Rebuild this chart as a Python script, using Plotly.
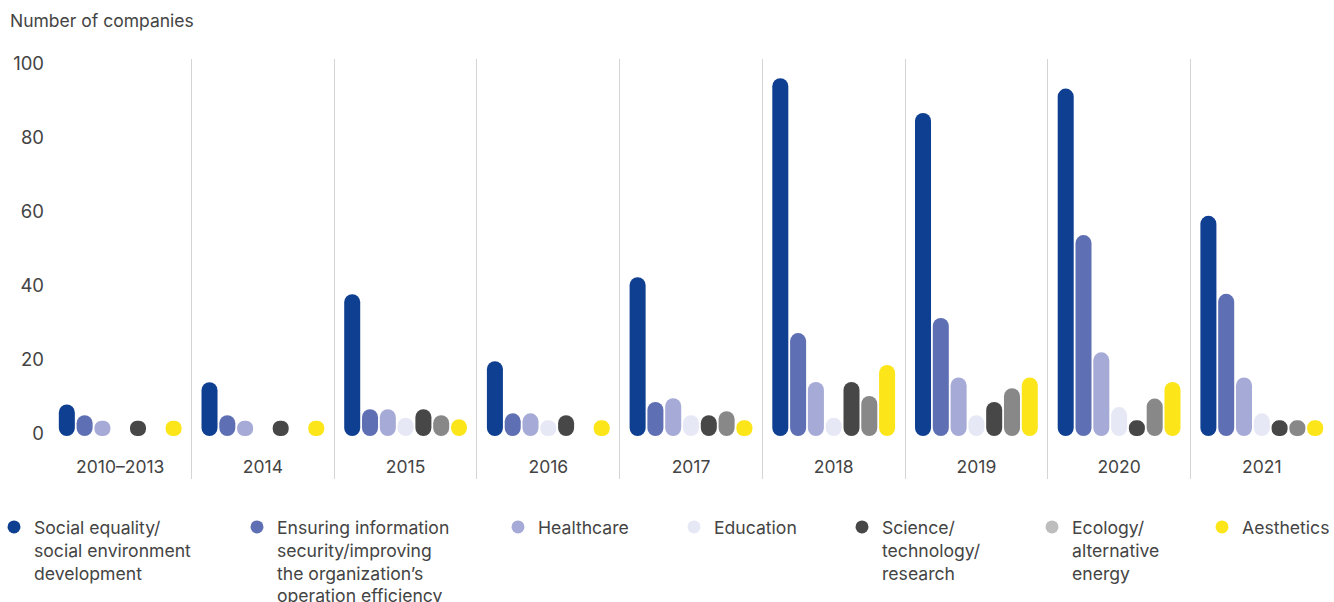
import plotly.graph_objects as go

# ---------------- data ----------------
categories = ["2010–2013", "2014", "2015", "2016", "2017", "2018", "2019", "2020", "2021"]

social_equality = [7.8, 13.8, 37.6, 19.5, 42.2, 96.0, 86.6, 93.2, 58.8]
info_security = [4.9, 4.9, 6.5, 5.4, 8.5, 27.1, 31.2, 53.6, 37.7]
healthcare = [3.4, 3.4, 6.5, 5.4, 9.5, 13.9, 15.1, 21.9, 15.1]
education = [None, None, 4.2, 3.5, 4.9, 4.2, 4.9, 7.1, 5.4]
science = [3.4, 3.4, 6.5, 4.9, 4.9, 13.9, 8.5, 3.5, 3.5]
ecology = [None, None, 4.9, None, 6.0, 10.1, 12.2, 9.4, 3.5]
aesthetics = [3.4, 3.4, 3.8, 3.5, 3.5, 18.5, 15.1, 13.9, 3.5]

series_labels = [
    "Social equality/<br>social environment<br>development",
    "Ensuring information<br>security/improving<br>the organization’s<br>operation efficiency",
    "Healthcare",
    "Education",
    "Science/<br>technology/<br>research",
    "Ecology/<br>alternative<br>energy",
    "Aesthetics",
]
series_values = [social_equality, info_security, healthcare, education, science, ecology, aesthetics]

y_ticks = [0, 20, 40, 60, 80, 100]

# ---------------- style ----------------
bar_colors = ["#0f3f91", "#5f6fb3", "#a6aad6", "#e6e8f5", "#474747", "#888888", "#fce61a"]
legend_colors = ["#0f3f91", "#5f6fb3", "#a6aad6", "#e6e8f5", "#474747", "#bdbdbd", "#fce61a"]
legend_dot_x = [14, 257, 518, 694, 862, 1052, 1222]  # px, dot centres
legend_top_y = 526
W, H = 1334, 602
FONT = "Inter"
TEXT = "#444444"

PILL_BOTTOM = -0.75   # pill bottom (data units)
RADIUS = 8

fig = go.Figure()

for i, (label, vals, col, lcol) in enumerate(zip(series_labels, series_values, bar_colors, legend_colors)):
    bases = [None if v is None else PILL_BOTTOM for v in vals]
    lens = [None if v is None else v - PILL_BOTTOM for v in vals]
    fig.add_trace(go.Bar(x=categories, y=lens, base=bases, offsetgroup=str(i),
                         showlegend=False, hoverinfo="skip",
                         marker=dict(color=col, cornerradius=RADIUS, line=dict(width=0))))
    lg = "legend" if i == 0 else f"legend{i + 1}"
    fig.add_trace(go.Scatter(x=[None], y=[None], mode="markers", name=label, legend=lg,
                             marker=dict(size=13, color=lcol), showlegend=True))

legend_layouts = {}
for i, dx in enumerate(legend_dot_x):
    key = "legend" if i == 0 else f"legend{i + 1}"
    left = dx - 20
    indent = 0
    if left < 0:
        indent = left
        left = 0
    legend_layouts[key] = dict(
        x=left / W, y=1 - (legend_top_y - 17) / H,
        xref="container", yref="container", xanchor="left", yanchor="top",
        orientation="h",
        valign="top", bgcolor="rgba(0,0,0,0)", borderwidth=0, indentation=indent,
        font=dict(family=FONT, size=17.6, color=TEXT),
        tracegroupgap=0,
    )

fig.update_layout(
    width=W, height=H,
    margin=dict(l=49, r=1, t=59, b=123),
    paper_bgcolor="white", plot_bgcolor="white",
    barmode="group", bargap=0.127, bargroupgap=0.1,
    font=dict(family=FONT, size=17, color=TEXT),
    title=dict(text="Number of companies", x=10 / W, xref="container", xanchor="left",
               y=1 - 21 / H, yref="container", yanchor="middle",
               font=dict(family=FONT, size=17.5, color=TEXT)),
    xaxis=dict(type="category", categoryorder="array", categoryarray=categories,
               range=[-0.499, len(categories) - 0.501],
               tickson="boundaries", showgrid=True, gridcolor="#d4d4d4", gridwidth=1,
               ticks="", showline=False, zeroline=False,
               ticklabelposition="inside", tickfont=dict(family=FONT, size=17.5, color=TEXT)),
    yaxis=dict(range=[-12.35, 101.2], tickvals=y_ticks, showgrid=False, zeroline=False,
               showline=False, ticks="", tickfont=dict(family=FONT, size=18.5, color=TEXT),
               ticklabelstandoff=4),
    **legend_layouts,
)

fig.write_html("out.html")
